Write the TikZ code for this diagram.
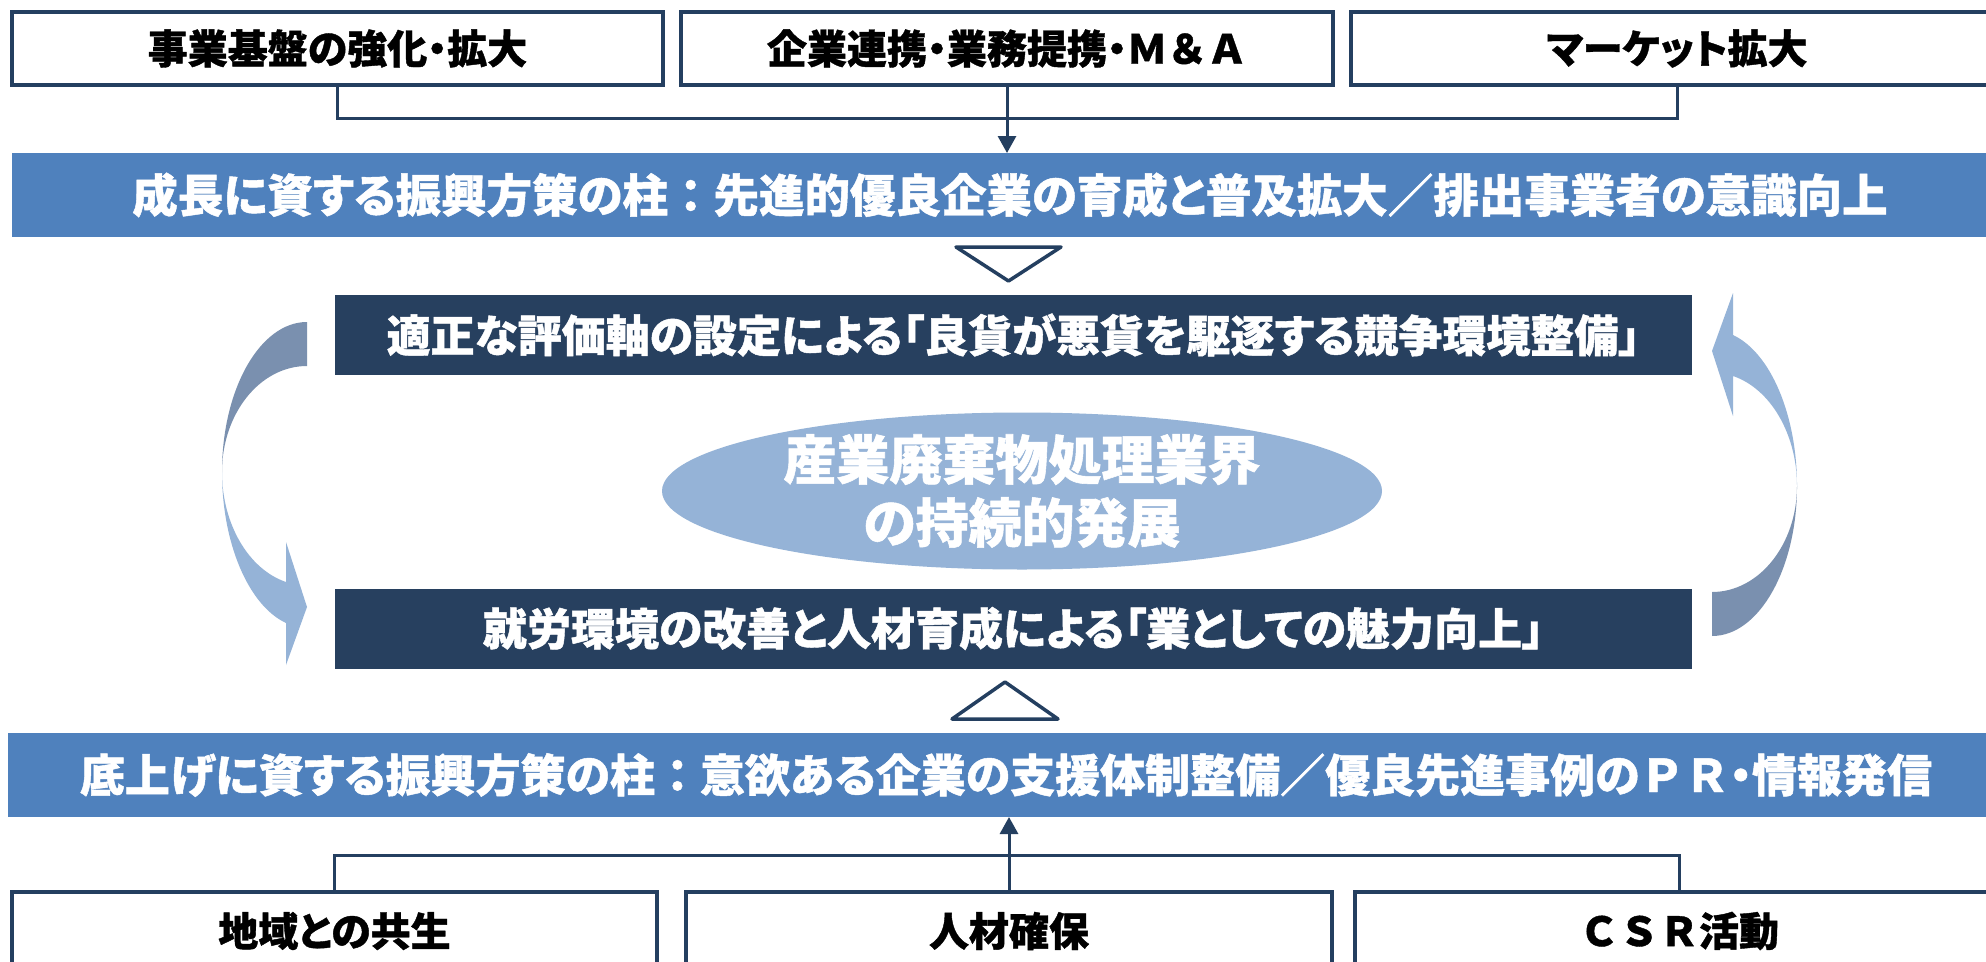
\documentclass[tikz,border=0pt]{standalone}
\usepackage{fontspec}
\setmainfont{Noto Sans CJK JP}[RawFeature=+palt, BoldFeatures={FakeBold=1}]
\newfontfamily\fw{Noto Sans CJK JP}[BoldFeatures={FakeBold=1}]
\usetikzlibrary{arrows.meta}
\definecolor{navy}{HTML}{243F60}
\definecolor{darkfill}{HTML}{27405F}
\definecolor{bluefill}{HTML}{4F81BD}
\definecolor{lightfill}{HTML}{95B3D7}
\definecolor{greyfill}{HTML}{7A90AF}
\begin{document}
\begin{tikzpicture}[x=1pt,y=-1pt,
  topbox/.style={draw=navy, line width=3.5pt, fill=white, minimum height=73pt, inner sep=0pt, outer sep=0pt, text=black, font=\bfseries\fontsize{40}{48}\selectfont},
  pillar/.style={fill=bluefill, minimum width=1996pt, minimum height=84pt, inner sep=0pt, outer sep=0pt, text=white, font=\bfseries\fontsize{45.5}{56}\selectfont},
  darkband/.style={fill=darkfill, minimum width=1357pt, minimum height=80pt, inner sep=0pt, outer sep=0pt, text=white, font=\bfseries\fontsize{44}{52}\selectfont},
  conn/.style={draw=navy, line width=3pt},
  arr/.style={conn, -{Triangle[width=18pt,length=17pt]}},
  hollowtri/.style={draw=navy, line width=3.5pt, fill=white, line join=round},
  ringtext/.style={text=white, align=center, font=\bfseries\fontsize{53}{63}\selectfont}
]
\useasboundingbox (0,0) rectangle (1986,961);
\clip (0,0) rectangle (1986,961);
\fill[white] (0,0) rectangle (1986,961);

% top boxes
\node[topbox, minimum width=651pt] (t1) at (337.5,48.5) {事業基盤の強化・拡大};
\node[topbox, minimum width=652pt] (t2) at (1007,48.5) {企業連携・業務提携・{\fw Ｍ＆Ａ}};
\node[topbox, minimum width=652pt] (t3) at (1677,48.5) {マーケット拡大};
\coordinate (tj) at (1007,118);

% upper pillar
\node[pillar] (p1) at (1010,195) {成長に資する振興方策の柱{\fw ：}先進的優良企業の育成と普及拡大／排出事業者の意識向上};
\draw[conn] (t1.south) |- (tj) -| (t3.south);
\draw[arr] (t2.south) -- (t2.south |- p1.north);

% down triangle
\draw[hollowtri] (956,247) -- (1061,247) -- (1008.5,281) -- cycle;

% dark bands
\node[darkband] (d1) at (1013.5,335) {適正な評価軸の設定による「良貨が悪貨を駆逐する競争環境整備」};
\node[darkband] (d2) at (1013.5,628.5) {就労環境の改善と人材育成による「業としての魅力向上」};

% ellipse
\fill[lightfill] (1022,491) ellipse [x radius=360, y radius=78.5];
\node[ringtext] (ell) at (1022,491) {産業廃棄物処理業界\\の持続的発展};

% curved arrows
\begin{scope}
  \fill[greyfill] (307,322) .. controls (260,322) and (222,389.2) .. (222,472)
     .. controls (222,413.5) and (260,366) .. (307,366) -- cycle;
  \fill[lightfill] (222,472) .. controls (222,543) and (248.4,605.4) .. (286,623)
     -- (286,665) -- (307,607) -- (286,542) -- (286,582)
     .. controls (248.4,569.2) and (222,523.8) .. (222,472) -- cycle;
\end{scope}
\begin{scope}[rotate around={180:(1009.5,479)}]
  \fill[greyfill] (307,322) .. controls (260,322) and (222,389.2) .. (222,472)
     .. controls (222,413.5) and (260,366) .. (307,366) -- cycle;
  \fill[lightfill] (222,472) .. controls (222,543) and (248.4,605.4) .. (286,623)
     -- (286,665) -- (307,607) -- (286,542) -- (286,582)
     .. controls (248.4,569.2) and (222,523.8) .. (222,472) -- cycle;
\end{scope}

% up triangle
\draw[hollowtri] (952,719) -- (1058,719) -- (1005,682) -- cycle;

% lower pillar
\node[pillar, font=\bfseries\fontsize{45}{56}\selectfont] (p2) at (1006,775) {底上げに資する振興方策の柱{\fw ：}意欲ある企業の支援体制整備／優良先進事例の{\fw ＰＲ}・情報発信};

% bottom boxes
\node[topbox, minimum width=645pt, minimum height=78pt] (u1) at (334.5,931) {地域との共生};
\node[topbox, minimum width=646pt, minimum height=78pt] (u2) at (1009,931) {人材確保};
\node[topbox, minimum width=648pt, minimum height=78pt] (u3) at (1679,931) {{\fw ＣＳＲ}活動};
\coordinate (uj) at (1009,855);
\draw[conn] (u1.north) |- (uj) -| (u3.north);
\draw[arr] (u2.north) -- (u2.north |- p2.south);
\end{tikzpicture}
\end{document}
